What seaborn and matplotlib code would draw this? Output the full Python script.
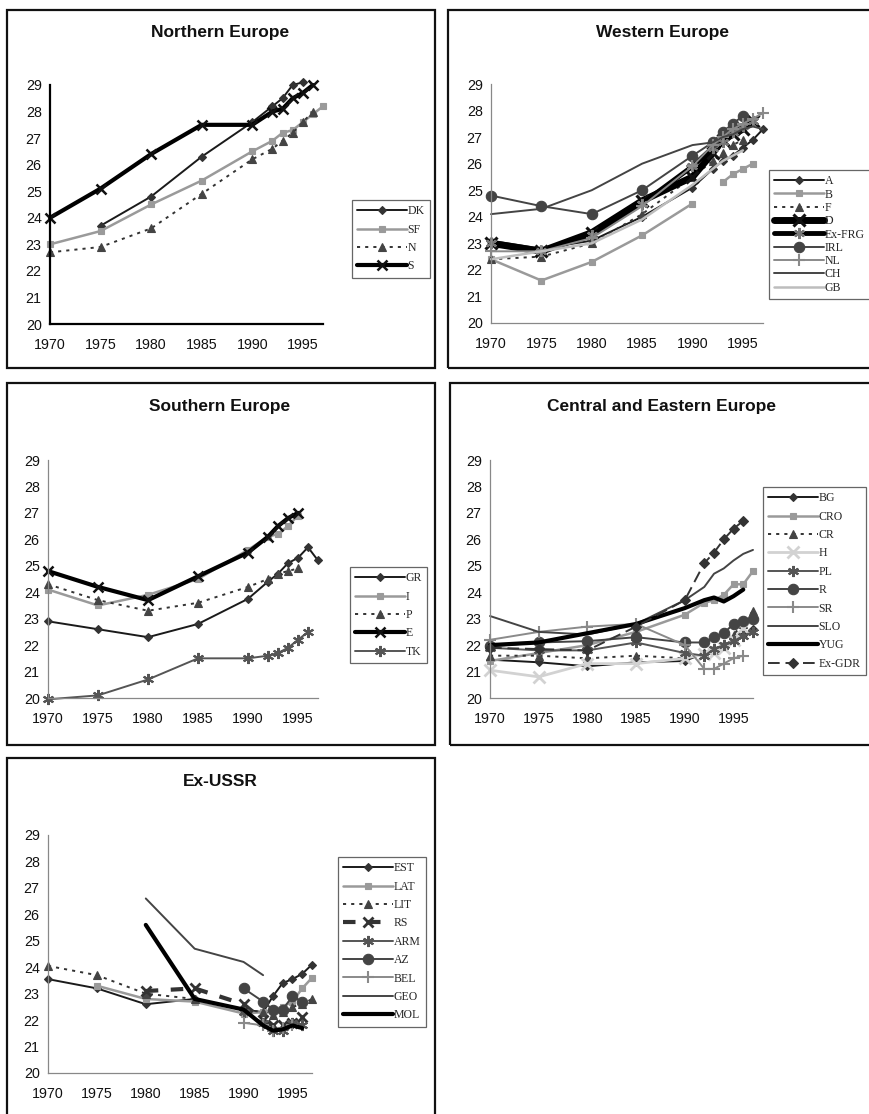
import numpy as np
import pandas as pd
import matplotlib
matplotlib.use("Agg")
import matplotlib.pyplot as plt
from matplotlib.lines import Line2D
from matplotlib.patches import Rectangle
import seaborn as sns

nan = np.nan

# ---------------- data ----------------
YEARS = [1970, 1975, 1980, 1985, 1990, 1992, 1993, 1994, 1995, 1996, 1997]
X_TICKS = [1970, 1975, 1980, 1985, 1990, 1995]
Y_TICKS = [20, 21, 22, 23, 24, 25, 26, 27, 28, 29]

TITLES = ["Northern Europe", "Western Europe", "Southern Europe",
          "Central and Eastern Europe", "Ex-USSR"]

# Northern Europe
north_labels = ["DK", "SF", "N", "S"]
north_DK = [nan, 23.7, 24.8, 26.3, 27.6, 28.2, 28.5, 29.0, 29.1, nan, nan]
north_SF = [23.0, 23.5, 24.5, 25.4, 26.5, 26.9, 27.2, 27.3, 27.6, 27.9, 28.2]
north_N = [22.7, 22.9, 23.6, 24.9, 26.2, 26.6, 26.9, 27.2, 27.6, 28.0, nan]
north_S = [24.0, 25.1, 26.4, 27.5, 27.5, 28.0, 28.1, 28.5, 28.7, 29.0, nan]

# Western Europe
west_labels = ["A", "B", "F", "D", "Ex-FRG", "IRL", "NL", "CH", "GB"]
west_A = [23.1, 22.8, 23.1, 24.0, 25.1, 25.8, 26.1, 26.3, 26.6, 26.9, 27.3]
west_B = [22.4, 21.6, 22.3, 23.3, 24.5, nan, 25.3, 25.6, 25.8, 26.0, nan]
west_F = [22.4, 22.5, 23.0, 24.1, 25.5, 26.1, 26.4, 26.7, 26.9, nan, nan]
west_D = [23.0, 22.7, 23.4, 24.6, 25.5, 26.4, 26.9, 27.1, 27.3, 27.6, nan]
west_ExFRG = [23.0, 22.7, 23.3, 24.5, 25.9, 26.6, 26.8, 27.2, 27.4, 27.6, nan]
west_IRL = [24.8, 24.4, 24.1, 25.0, 26.3, 26.8, 27.2, 27.5, 27.8, nan, nan]
west_NL = [22.7, 22.7, 23.2, 24.4, 25.9, 26.7, 27.0, 27.3, 27.5, 27.7, 27.9]
west_CH = [24.1, 24.3, 25.0, 26.0, 26.7, 26.8, 27.0, 27.1, 27.3, 27.4, 27.3]
west_GB = [22.4, 22.7, 23.0, 23.9, 25.2, 25.8, 26.1, 26.3, 26.5, nan, nan]

# Southern Europe
south_labels = ["GR", "I", "P", "E", "TK"]
south_GR = [22.9, 22.6, 22.3, 22.8, 23.75, 24.4, 24.7, 25.1, 25.3, 25.7, 25.2]
south_I = [24.1, 23.5, 23.9, 24.5, 25.6, 26.1, 26.2, 26.5, 26.9, nan, nan]
south_P = [24.3, 23.7, 23.3, 23.6, 24.2, 24.5, 24.7, 24.8, 24.9, nan, nan]
south_E = [24.8, 24.2, 23.7, 24.6, 25.5, 26.1, 26.5, 26.8, 27.0, nan, nan]
south_TK = [19.95, 20.1, 20.7, 21.5, 21.5, 21.6, 21.7, 21.9, 22.2, 22.5, nan]

# Central and Eastern Europe
cee_labels = ["BG", "CRO", "CR", "H", "PL", "R", "SR", "SLO", "YUG", "Ex-GDR"]
cee_BG = [21.45, 21.35, 21.2, 21.35, 21.4, 21.7, 21.85, 22.0, 22.2, 22.4, 22.6]
cee_CRO = [21.4, 21.7, 22.0, 22.5, 23.15, 23.6, 23.7, 23.9, 24.3, 24.3, 24.8]
cee_CR = [21.6, 21.6, 21.5, 21.6, 21.5, 21.7, 21.8, 22.0, 22.4, 22.8, 23.3]
cee_H = [21.05, 20.8, 21.3, 21.3, 21.5, 21.65, 21.7, 21.9, 22.2, 22.65, nan]
cee_PL = [21.9, 21.8, 21.8, 22.1, 21.7, 21.6, 21.85, 22.0, 22.15, 22.35, 22.5]
cee_R = [21.95, 22.1, 22.15, 22.3, 22.1, 22.1, 22.3, 22.45, 22.8, 22.9, 23.0]
cee_SR = [22.2, 22.5, 22.7, 22.8, 22.0, 21.1, 21.1, 21.3, 21.5, 21.6, nan]
cee_SLO = [23.1, 22.5, 22.4, 22.8, 23.7, 24.2, 24.7, 24.9, 25.2, 25.45, 25.6]
cee_YUG = [22.0, 22.1, 22.45, 22.8, 23.4, 23.7, 23.8, 23.65, 23.85, 24.1, nan]
cee_ExGDR = [21.9, 21.85, 21.8, 22.7, 23.7, 25.1, 25.5, 26.0, 26.4, 26.7, nan]

# Ex-USSR
ussr_labels = ["EST", "LAT", "LIT", "RS", "ARM", "AZ", "BEL", "GEO", "MOL"]
ussr_EST = [23.55, 23.2, 22.6, 22.8, 22.4, 22.3, 22.9, 23.4, 23.55, 23.75, 24.1]
ussr_LAT = [nan, 23.3, 22.8, 22.7, 22.25, 22.3, 22.4, 22.5, 22.7, 23.2, 23.6]
ussr_LIT = [24.05, 23.7, 23.0, 22.8, 22.4, 22.3, 22.2, 22.3, 22.5, 22.6, 22.8]
ussr_RS = [nan, nan, 23.1, 23.2, 22.6, 22.0, 21.8, 21.8, 21.9, 22.1, nan]
ussr_ARM = [nan, nan, nan, nan, 22.3, 21.9, 21.6, 21.6, 21.9, 21.8, nan]
ussr_AZ = [nan, nan, nan, nan, 23.2, 22.7, 22.4, 22.4, 22.9, 22.7, nan]
ussr_BEL = [nan, nan, nan, nan, 21.9, 21.8, 21.6, 21.7, 21.8, nan, nan]
ussr_GEO = [nan, nan, 26.6, 24.7, 24.2, 23.7, nan, nan, nan, nan, nan]
ussr_MOL = [nan, nan, 25.6, 22.8, 22.4, 21.8, 21.6, 21.65, 21.8, 21.7, nan]

# ---------------- styles ----------------
STY = {
    "black_diamond": dict(color="#1a1a1a", linewidth=1.4, marker="D", markersize=4.5,
                          markerfacecolor="#333333", markeredgecolor="#333333", markeredgewidth=0.8),
    "gray_square": dict(color="#9a9a9a", linewidth=1.8, marker="s", markersize=4.5,
                        markerfacecolor="#9a9a9a", markeredgecolor="#9a9a9a", markeredgewidth=0.8),
    "dotted_triangle": dict(color="#333333", linewidth=1.4, linestyle=(0, (1.6, 2.6)), marker="^",
                            markersize=6, markerfacecolor="#444444", markeredgecolor="#444444",
                            markeredgewidth=0.8),
    "thick_x": dict(color="#000000", linewidth=3.0, marker="x", markersize=7,
                    markeredgecolor="#111111", markeredgewidth=1.8),
    "vthick_x": dict(color="#000000", linewidth=5.0, marker="x", markersize=8,
                     markeredgecolor="#111111", markeredgewidth=2.2),
    "thick_ast": dict(color="#000000", linewidth=3.5, marker=(6, 2, 0), markersize=8,
                      markeredgecolor="#777777", markeredgewidth=1.6),
    "dgray_circle": dict(color="#444444", linewidth=1.4, marker="o", markersize=7.5,
                         markerfacecolor="#444444", markeredgecolor="#444444", markeredgewidth=0.8),
    "gray_plus": dict(color="#8a8a8a", linewidth=1.4, marker="+", markersize=8,
                      markeredgecolor="#8a8a8a", markeredgewidth=1.5),
    "dgray_line": dict(color="#444444", linewidth=1.4),
    "lgray_line": dict(color="#bdbdbd", linewidth=1.8),
    "dgray_ast": dict(color="#555555", linewidth=1.4, marker=(6, 2, 0), markersize=8,
                      markeredgecolor="#555555", markeredgewidth=1.5),
    "lgray_x": dict(color="#d2d2d2", linewidth=2.0, marker="x", markersize=8,
                    markeredgecolor="#d2d2d2", markeredgewidth=2.0),
    "thick_line": dict(color="#000000", linewidth=3.0),
    "dashed_diamond": dict(color="#333333", linewidth=1.4, linestyle=(0, (6, 3)), marker="D",
                           markersize=5, markerfacecolor="#333333", markeredgecolor="#333333",
                           markeredgewidth=0.8),
    "thick_dashed_x": dict(color="#333333", linewidth=3.0, linestyle=(0, (3, 3)), marker="x",
                           markersize=7, markeredgecolor="#333333", markeredgewidth=2.0),
}

W, H = 870, 1114

PANELS = [
    dict(title=TITLES[0], tx=220, ty=32, ax=(50, 85, 323, 324), frame=(7, 10, 435, 368),
         leg=(352, 200), spacing=0.54, axis_color="#000000", axis_lw=1.6,
         series=list(zip(north_labels, [north_DK, north_SF, north_N, north_S],
                         ["black_diamond", "gray_square", "dotted_triangle", "thick_x"]))),
    dict(title=TITLES[1], tx=663, ty=32, ax=(491, 84, 763, 323), frame=(448, 10, 875, 368),
         leg=(769, 170), spacing=0.11, axis_color="#888888", axis_lw=0.9,
         series=list(zip(west_labels,
                         [west_A, west_B, west_F, west_D, west_ExFRG, west_IRL, west_NL, west_CH, west_GB],
                         ["black_diamond", "gray_square", "dotted_triangle", "vthick_x", "thick_ast",
                          "dgray_circle", "gray_plus", "dgray_line", "lgray_line"]))),
    dict(title=TITLES[2], tx=220, ty=406, ax=(48, 460, 318, 698), frame=(7, 383, 435, 745),
         leg=(350, 567), spacing=0.54, axis_color="#888888", axis_lw=0.9,
         series=list(zip(south_labels, [south_GR, south_I, south_P, south_E, south_TK],
                         ["black_diamond", "gray_square", "dotted_triangle", "thick_x", "dgray_ast"]))),
    dict(title=TITLES[3], tx=662, ty=406, ax=(490, 460, 753, 698), frame=(450, 383, 875, 745),
         leg=(763, 487), spacing=0.54, axis_color="#888888", axis_lw=0.9,
         series=list(zip(cee_labels,
                         [cee_BG, cee_CRO, cee_CR, cee_H, cee_PL, cee_R, cee_SR, cee_SLO, cee_YUG, cee_ExGDR],
                         ["black_diamond", "gray_square", "dotted_triangle", "lgray_x", "dgray_ast",
                          "dgray_circle", "gray_plus", "dgray_line", "thick_line", "dashed_diamond"]))),
    dict(title=TITLES[4], tx=220, ty=781, ax=(48, 835, 312, 1073), frame=(7, 758, 435, 1125),
         leg=(338, 857), spacing=0.54, axis_color="#888888", axis_lw=0.9,
         series=list(zip(ussr_labels,
                         [ussr_EST, ussr_LAT, ussr_LIT, ussr_RS, ussr_ARM, ussr_AZ, ussr_BEL, ussr_GEO, ussr_MOL],
                         ["black_diamond", "gray_square", "dotted_triangle", "thick_dashed_x", "dgray_ast",
                          "dgray_circle", "gray_plus", "dgray_line", "thick_line"]))),
]

sns.set_theme(style="white")
plt.rcParams["font.family"] = ["Liberation Sans", "DejaVu Sans"]

fig = plt.figure(figsize=(W / 100, H / 100), dpi=100)
fig.patch.set_facecolor("white")


def fig_box(x0, y0, x1, y1):
    return [x0 / W, 1 - y1 / H, (x1 - x0) / W, (y1 - y0) / H]


def draw_series(ax, values, style):
    df = pd.DataFrame({"year": YEARS, "value": values})
    missing = df["value"].isna()
    run_id = missing.cumsum()
    for _, seg in df[~missing].groupby(run_id[~missing]):
        sns.lineplot(data=seg, x="year", y="value", ax=ax, estimator=None, errorbar=None,
                     sort=False, legend=False, clip_on=False, **STY[style])


for p in PANELS:
    fx0, fy0, fx1, fy1 = p["frame"]
    fig.add_artist(Rectangle((fx0 / W, 1 - fy1 / H), (fx1 - fx0) / W, (fy1 - fy0) / H,
                             transform=fig.transFigure, fill=False, lw=1.6, ec="#111111"))
    fig.text(p["tx"] / W, 1 - p["ty"] / H, p["title"], ha="center", va="center",
             fontsize=12.5, fontweight="bold", color="#111111")

    ax = fig.add_axes(fig_box(*p["ax"]))
    ax.set_facecolor("none")
    for label, vals, style in p["series"]:
        draw_series(ax, vals, style)

    ax.set_xlim(1970, 1997)
    ax.set_ylim(20, 29)
    ax.set_xticks(X_TICKS)
    ax.set_yticks(Y_TICKS)
    ax.set_xlabel("")
    ax.set_ylabel("")
    for s in ["top", "right"]:
        ax.spines[s].set_visible(False)
    for s in ["left", "bottom"]:
        ax.spines[s].set_color(p["axis_color"])
        ax.spines[s].set_linewidth(p["axis_lw"])
    ax.tick_params(axis="both", direction="inout", length=6, width=p["axis_lw"],
                   color=p["axis_color"], labelsize=10.3, labelcolor="#111111")
    ax.tick_params(axis="x", pad=7)
    ax.tick_params(axis="y", pad=3)
    ax.grid(False)

    handles = [Line2D([0], [0], **STY[style]) for _, _, style in p["series"]]
    labels = [lab for lab, _, _ in p["series"]]
    lx, ly = p["leg"]
    leg = fig.legend(handles, labels, loc="upper left", bbox_to_anchor=(lx / W, 1 - ly / H),
                     bbox_transform=fig.transFigure, frameon=True, fancybox=False,
                     edgecolor="#666666", framealpha=1, facecolor="white",
                     prop={"family": ["Liberation Serif", "DejaVu Serif"], "size": 8.5},
                     handlelength=4.2, handletextpad=0.05, labelspacing=p["spacing"],
                     borderpad=0.45, borderaxespad=0, numpoints=1)
    leg.get_frame().set_linewidth(0.9)

fig.savefig("out.png", dpi=100, facecolor="white")
